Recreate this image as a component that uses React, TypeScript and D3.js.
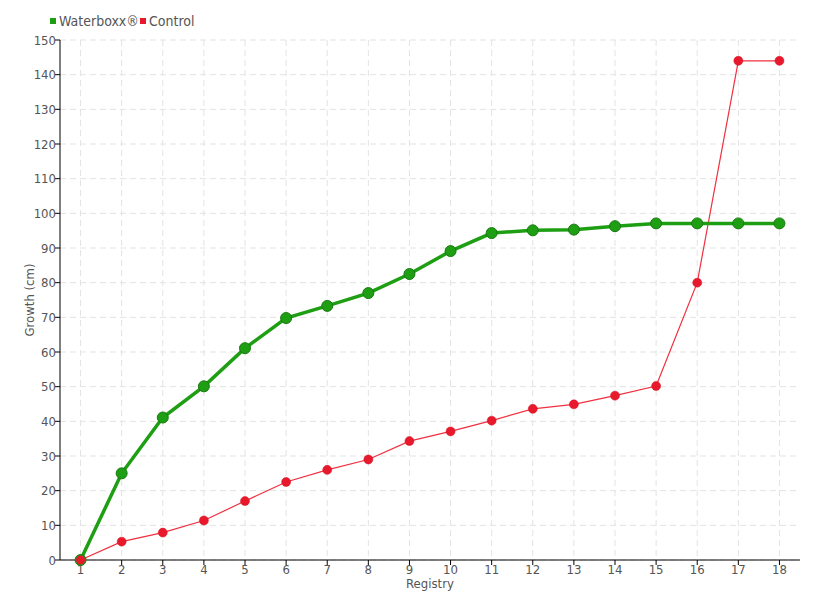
import React from "react";
import * as d3 from "d3";

const categories = ["1","2","3","4","5","6","7","8","9","10","11","12","13","14","15","16","17","18"];
const waterboxx = [0, 25, 41.1, 50.1, 61.1, 69.8, 73.3, 77, 82.5, 89.1, 94.3, 95.1, 95.3, 96.3, 97.1, 97.1, 97.1, 97.1];
const control = [0, 5.3, 7.9, 11.4, 17, 22.5, 26, 29, 34.3, 37.1, 40.2, 43.6, 44.9, 47.4, 50.2, 80, 144, 144];
const yTicks = [0,10,20,30,40,50,60,70,80,90,100,110,120,130,140,150];

const W = 820, H = 600;
const M = { left: 60, right: 20, top: 40, bottom: 40 };
const FONT = "'DejaVu Sans Condensed', 'DejaVu Sans', sans-serif";

export default function App() {
  const x = d3.scaleBand<string>().domain(categories).range([M.left, W - M.right]).padding(0);
  const cx = (c: string) => (x(c) as number) + x.bandwidth() / 2;
  const y = d3.scaleLinear().domain([0, 150]).range([H - M.bottom, M.top]);
  const line = d3.line<number>().x((_, i) => cx(categories[i])).y((d) => y(d));

  return (
    <svg width={W} height={H} style={{ position: "absolute", left: 0, top: 0, background: "#fff" }} fontFamily={FONT} fontStretch="condensed">
      {yTicks.map((t) => (
        <line key={"gy" + t} x1={M.left} x2={W - M.right} y1={y(t)} y2={y(t)} stroke="#e3e3e3" strokeDasharray="6,4" />
      ))}
      {categories.map((c) => (
        <line key={"gx" + c} x1={cx(c)} x2={cx(c)} y1={M.top} y2={H - M.bottom} stroke="#e3e3e3" strokeDasharray="6,4" />
      ))}
      <line x1={M.left} x2={M.left} y1={M.top} y2={H - M.bottom} stroke="#000" />
      <line x1={M.left} x2={W - M.right} y1={H - M.bottom} y2={H - M.bottom} stroke="#000" />
      {yTicks.map((t) => (
        <g key={"ty" + t}>
          <line x1={M.left - 5} x2={M.left} y1={y(t)} y2={y(t)} stroke="#000" />
          <text x={M.left - 4} y={y(t)} dy="0.35em" textAnchor="end" fontSize={13} fill="#555">{t}</text>
        </g>
      ))}
      {categories.map((c) => (
        <g key={"tx" + c}>
          <line x1={cx(c)} x2={cx(c)} y1={H - M.bottom} y2={H - M.bottom + 5} stroke="#000" />
          <text x={cx(c)} y={H - M.bottom + 14} textAnchor="middle" fontSize={13} fill="#555">{c}</text>
        </g>
      ))}
      <text x={(M.left + W - M.right) / 2} y={H - 12} textAnchor="middle" fontSize={13} fill="#555">Registry</text>
      <text transform={`translate(34,${(M.top + H - M.bottom) / 2}) rotate(-90)`} textAnchor="middle" fontSize={13} fill="#555">Growth (cm)</text>

      <path d={line(control) || ""} fill="none" stroke="#f0303f" strokeWidth={1.2} />
      {control.map((v, i) => (
        <circle key={"c" + i} cx={cx(categories[i])} cy={y(v)} r={4.5} fill="#e8192c" stroke="#d0101f" strokeWidth={0.5} />
      ))}
      <path d={line(waterboxx) || ""} fill="none" stroke="#1e9e12" strokeWidth={3.5} />
      {waterboxx.map((v, i) => (
        <circle key={"w" + i} cx={cx(categories[i])} cy={y(v)} r={5.5} fill="#1e9e12" stroke="#187a10" strokeWidth={1} />
      ))}
      <circle cx={cx(categories[0])} cy={y(control[0])} r={4.5} fill="#e8192c" />

      <rect x={50} y={18} width={6} height={6} fill="#1e9e12" />
      <text x={59} y={21} dy="0.35em" fontSize={14} fill="#555">Waterboxx®</text>
      <rect x={140} y={18} width={6} height={6} fill="#e8192c" />
      <text x={149} y={21} dy="0.35em" fontSize={14} fill="#555">Control</text>
    </svg>
  );
}
